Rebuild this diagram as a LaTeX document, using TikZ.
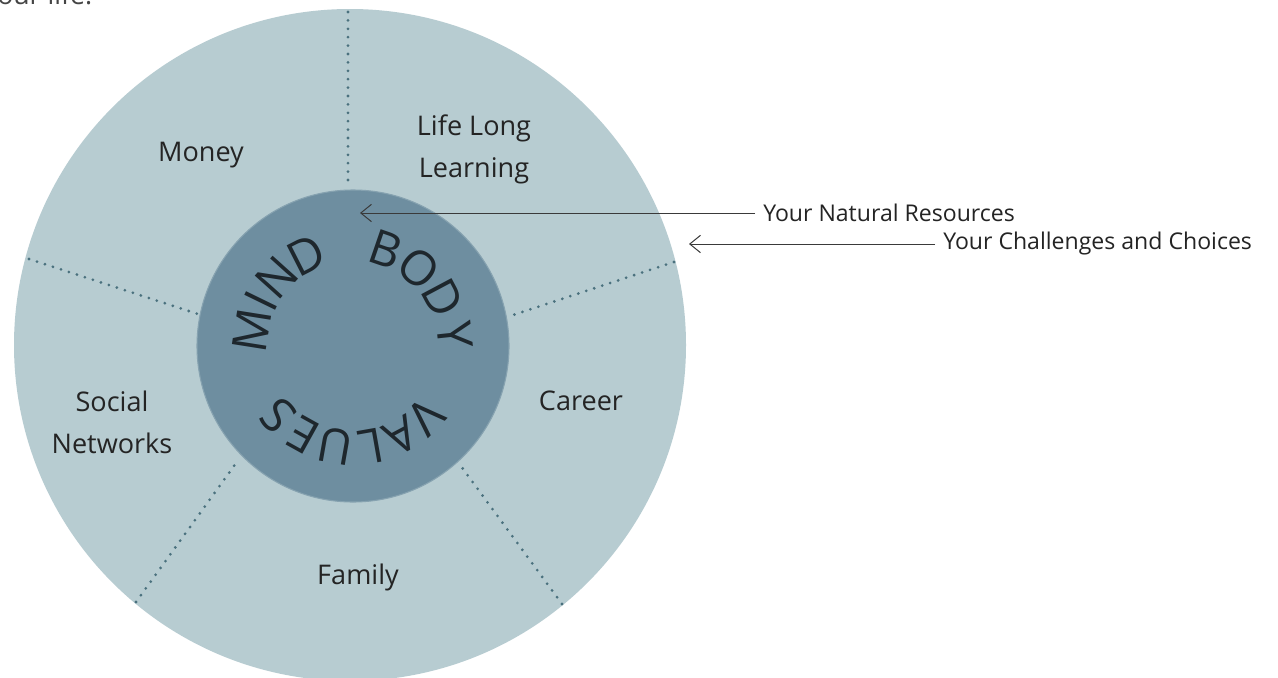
\documentclass[tikz,border=0pt]{standalone}
\usepackage{fontspec}
\setmainfont{Open Sans}
\usetikzlibrary{arrows.meta}
\definecolor{outerfill}{HTML}{B7CCD1}
\definecolor{innerfill}{HTML}{6E8EA0}
\definecolor{inneredge}{HTML}{86A2B0}
\definecolor{dotcol}{HTML}{4A717E}
\definecolor{txt}{HTML}{242424}
\definecolor{ltrcol}{HTML}{1E272D}
\definecolor{arrcol}{HTML}{3A3A3A}
\begin{document}
\begin{tikzpicture}[x=0.75pt,y=-0.75pt,
  dotline/.style={draw=dotcol, line width=2.3pt, line cap=round, dash pattern=on 0pt off 6.3pt},
  lab/.style={font=\fontsize{20.3}{31.5}\selectfont, text=txt, align=center, inner sep=0pt},
  note/.style={font=\fontsize{17.3}{20}\selectfont, text=txt, inner sep=0pt, anchor=west},
  arr/.style={draw=arrcol, line width=0.75pt, -{Straight Barb[length=8pt,width=13pt]}},
  letter/.style={font=\fontsize{36}{36}\selectfont, text=ltrcol, inner sep=0pt}]
\useasboundingbox (0,0) rectangle (1278,678);
\clip (0,0) rectangle (1278,678);
\fill[white] (0,0) rectangle (1278,678);
% circles
\fill[outerfill] (350,345) circle[radius=252pt];
\coordinate (t0) at (348,12);   \coordinate (t1) at (348,188);
\coordinate (ul0) at (29,259);  \coordinate (ul1) at (198,314);
\coordinate (ur0) at (674,262); \coordinate (ur1) at (507,317);
\coordinate (ll0) at (136,602); \coordinate (ll1) at (239,459);
\coordinate (lr0) at (562,604); \coordinate (lr1) at (458,462);
\draw[dotline] (t0) -- (t1);
\draw[dotline] (ul0) -- (ul1);
\draw[dotline] (ur0) -- (ur1);
\draw[dotline] (ll0) -- (ll1);
\draw[dotline] (lr0) -- (lr1);
\filldraw[fill=innerfill, draw=inneredge, line width=0.8pt] (353,346) circle[radius=117pt];
% curved words
\foreach \ch/\a in {M/171, I/154, N/138, D/117, B/71, O/50, D/28, Y/6, V/-44, A/-62, L/-80, U/-100, E/-119, S/-137}{
  \node[letter, rotate=\a-90] (ltr\a) at ({353+102*cos(\a)},{346-102*sin(\a)}) {\ch};
}
% sector labels
\node[lab] (money) at (201,155) {Money};
\node[lab] (learn) at (474,149) {Life Long\\Learning};
\node[lab] (social) at (112,422) {Social\\Networks};
\node[lab] (career) at (581,401) {Career};
\node[lab] (family) at (358,577) {Family};
% top-left cut text
\node[anchor=base west, inner sep=0pt, font=\fontsize{20}{24}\selectfont, text=txt!85] (ourlife) at (-3,4) {our life.};
% callouts
\node[note] (nr) at (763,213) {Your Natural Resources};
\coordinate (nrtip) at (360,213);
\draw[arr] (nr.west) ++(-8,0) -- (nrtip);
\node[note] (cc) at (943,244) {Your Challenges and Choices};
\coordinate (cctip) at (689,244);
\draw[arr] (cc.west) ++(-8,0) -- (cctip);
\end{tikzpicture}
\end{document}
